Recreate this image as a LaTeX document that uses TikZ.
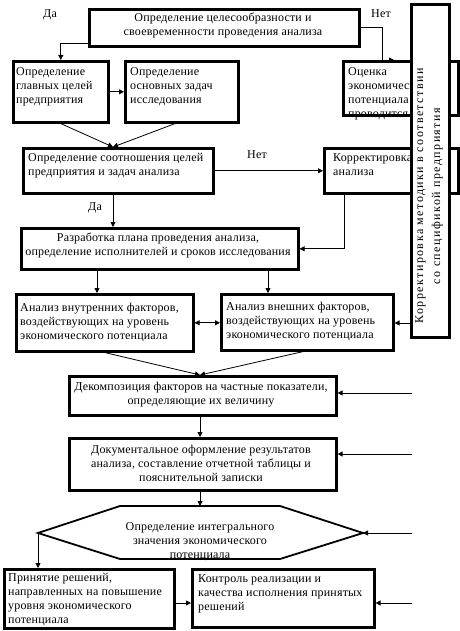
\documentclass[tikz,border=0pt]{standalone}
\usepackage{fontspec}
\setmainfont[LetterSpace=1.5]{Liberation Serif}
\newfontfamily\vertfont[LetterSpace=12]{Liberation Serif}
\usetikzlibrary{arrows.meta,calc}
\begin{document}
\begin{tikzpicture}[x=1pt,y=-1pt,
  box/.style={draw, line width=2.6pt, inner sep=0pt},
  txt/.style={font=\fontsize{12}{14}\selectfont, inner sep=0pt, align=left, anchor=north west},
  ctxt/.style={font=\fontsize{12}{14}\selectfont, inner sep=0pt, align=center, anchor=north},
  lbl/.style={font=\fontsize{12}{14}\selectfont, inner sep=0pt},
  conn/.style={line width=0.8pt},
  arr/.style={conn, -{Triangle[length=5pt,width=5pt]}},
  darr/.style={conn, {Triangle[length=5pt,width=5pt]}-{Triangle[length=5pt,width=5pt]}},
]
\useasboundingbox (0,0) rectangle (459,631);
\fill[white] (0,0) rectangle (459,631);

% texts
\node[ctxt] (ttop) at (223,13) {Определение целесообразности и\\своевременности проведения анализа};
\node[txt] (tglavn) at (16,67) {Определение\\главных целей\\предприятия};
\node[txt] (tzadach) at (130,67) {Определение\\основных задач\\исследования};
\node[txt] (totsenka) at (348,67) {Оценка\\экономического\\потенциала\\проводится};
\node[txt] (tsootn) at (28,153) {Определение соотношения целей\\предприятия и задач анализа};
\node[txt] (tkorr) at (333,153) {Корректировка\\анализа};
\node[ctxt] (tplan) at (158,233) {Разработка плана проведения анализа,\\определение исполнителей и сроков исследования};
\node[txt] (tvnutr) at (20,303) {Анализ внутренних факторов,\\воздействующих на уровень\\экономического потенциала};
\node[txt] (tvnesh) at (226,302) {Анализ внешних факторов,\\воздействующих на уровень\\экономического потенциала};
\node[ctxt] (tdekomp) at (201,382) {Декомпозиция факторов на частные показатели,\\определяющие их величину};
\node[ctxt] (tdokum) at (201,445) {Документальное оформление результатов\\анализа, составление отчетной таблицы и\\пояснительной записки};
\node[ctxt] (thex) at (200,522) {Определение интегрального\\значения экономического\\потенциала};
\node[txt] (tprin) at (8,573) {Принятие решений,\\направленных на повышение\\уровня экономического\\потенциала};
\node[txt] (tkontr) at (198,574) {Контроль реализации и\\качества исполнения принятых\\решений};

% boxes
\node[box, anchor=north west, minimum width=270, minimum height=37] (top) at (88,8) {};
\node[box, anchor=north west, minimum width=95, minimum height=61] (glavn) at (12,60) {};
\node[box, anchor=north west, minimum width=113, minimum height=61] (zadach) at (124,60) {};
\node[box, anchor=north west, minimum width=115, minimum height=54] (otsenka) at (342,60) {};
\node[box, anchor=north west, minimum width=190, minimum height=45] (sootn) at (22,147) {};
\node[box, anchor=north west, minimum width=134, minimum height=45] (korran) at (323,147) {};
\node[box, anchor=north west, minimum width=277, minimum height=41] (plan) at (20,227) {};
\node[box, anchor=north west, minimum width=177, minimum height=57] (vnutr) at (15,293) {};
\node[box, anchor=north west, minimum width=172, minimum height=56] (vnesh) at (220,293) {};
\node[box, anchor=north west, minimum width=267, minimum height=39] (dekomp) at (68,375) {};
\node[box, anchor=north west, minimum width=267, minimum height=52] (dokum) at (68,437) {};
\node[box, anchor=north west, minimum width=170, minimum height=59] (prin) at (3,568) {};
\node[box, anchor=north west, minimum width=182, minimum height=58] (kontr) at (191,568) {};
\draw[line width=1.8pt] (38,533) coordinate (hl) -- (120,506) -- (200,506) coordinate (ht) -- (280,506)
  -- (363,533) coordinate (hr) -- (280,559) -- (120,559) -- cycle;

\node[box, fill=white, anchor=north west, minimum width=38, minimum height=333] (vert) at (410,3) {};
\node[font=\vertfont\fontsize{12}{17}\selectfont, rotate=90, align=center, inner sep=0pt] (tvert) at (429,196)
  {Корректировка методики в соответствии\\со спецификой предприятия};

% labels
\node[lbl] (da1) at (50,15) {Да};
\node[lbl] (net1) at (381,14) {Нет};
\node[lbl] (net2) at (257,155) {Нет};
\node[lbl] (da2) at (95,208) {Да};

% connectors
\draw[arr] (top.west |- 0,43) -| (glavn.north);
\coordinate (oc) at (otsenka.north west -| 382,0);
\draw[conn] (top.east |- 0,27) -| (oc);
\draw[arr] (oc) -- ++(12,0);
\draw[arr] (glavn.east) -- (zadach.west);
\coordinate (sin) at (sootn.north -| 113,0);
\draw[arr] (glavn.south) -- (sin);
\draw[arr] (zadach.south -| 175,0) -- (sin);
\draw[arr] (sootn.east) -- (korran.west |- sootn.east);
\draw[arr] (sootn.south -| 113,0) -- (plan.north -| 113,0);
\draw[arr] (korran.south -| 344,0) |- (plan.east);
\draw[arr] (plan.south -| 97,0) -- (vnutr.north -| 97,0);
\draw[arr] (plan.south -| 268,0) -- (vnesh.north -| 268,0);
\draw[darr] (vnutr.east) -- (vnesh.west |- vnutr.east);
\draw[arr] (vert.west |- 0,323) -- (vnesh.east |- 0,323);
\coordinate (din) at (dekomp.north -| 200,0);
\draw[arr] (vnutr.south -| 105,0) -- (din);
\draw[arr] (vnesh.south -| 303,0) -- (din);
\draw[arr] (dekomp.south -| 200,0) -- (dokum.north -| 200,0);
\draw[arr] (dokum.south -| 200,0) -- (ht);
\draw[arr] (hl) -- (prin.north -| hl);
\draw[arr] (prin.east |- 0,603) -- (kontr.west |- 0,603);
\coordinate (r1) at (412,393);
\coordinate (r2) at (412,454);
\coordinate (r3) at (412,533);
\coordinate (r4) at (412,603);
\draw[arr] (r1) -- (dekomp.east |- r1);
\draw[arr] (r2) -- (dokum.east |- r2);
\draw[arr] (r3) -- (hr);
\draw[arr] (r4) -- (kontr.east |- r4);
\end{tikzpicture}
\end{document}
